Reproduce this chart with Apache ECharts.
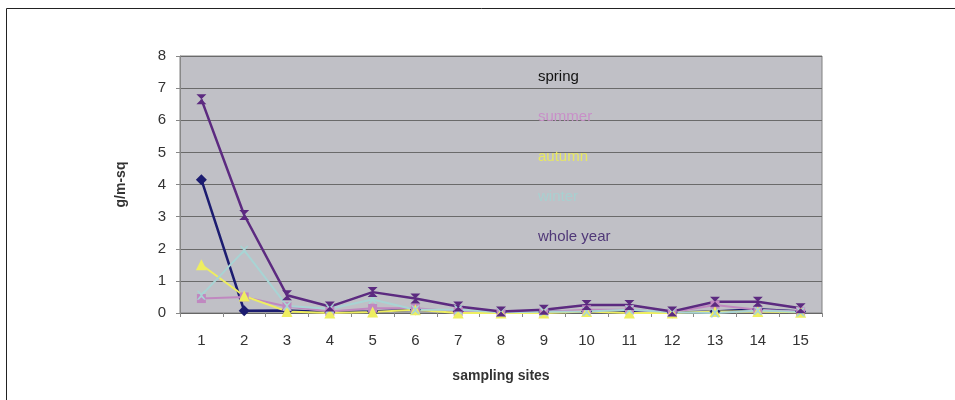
<!DOCTYPE html>
<html>
<head>
<meta charset="utf-8">
<script src="https://cdn.jsdelivr.net/npm/echarts@6/dist/echarts.min.js"></script>
<style>
html,body{margin:0;padding:0;background:#fff;}
#chart{width:955px;height:400px;}
</style>
</head>
<body>
<div id="chart"></div>
<script>
const sites = ['1','2','3','4','5','6','7','8','9','10','11','12','13','14','15'];
const spring    = [4.15, 0.07, 0.08, 0.02, 0.05, 0.10, 0.05, 0.02, 0.03, 0.05, 0.05, 0.01, 0.05, 0.12, 0.05];
const summer    = [0.45, 0.50, 0.20, 0.05, 0.15, 0.15, 0.05, 0.01, 0.03, 0.10, 0.10, 0.02, 0.25, 0.10, 0.05];
const autumn    = [1.50, 0.53, 0.05, 0.00, 0.03, 0.10, 0.00, 0.00, 0.00, 0.05, 0.00, 0.00, 0.05, 0.05, 0.02];
const winter    = [0.55, 1.95, 0.22, 0.13, 0.42, 0.10, 0.10, 0.02, 0.04, 0.05, 0.10, 0.02, 0.00, 0.08, 0.03];
const wholeYear = [6.65, 3.05, 0.55, 0.20, 0.65, 0.45, 0.20, 0.05, 0.10, 0.25, 0.25, 0.05, 0.35, 0.35, 0.15];
const seriesNames = ['spring','summer','autumn','winter','whole year'];

const chart = echarts.init(document.getElementById('chart'), null, {renderer:'canvas'});
const hourglass = 'path://M0,0 L10,0 L0,10 L10,10 Z';
function s(name, data, color, symbol, size, width){
  return {name, type:'line', data, symbol, symbolSize:size,
    lineStyle:{color, width:width || 2}, itemStyle:{color}, z: 3};
}
chart.setOption({
  animation:false,
  backgroundColor:'#ffffff',
  graphic:[{type:'rect', shape:{x:6.5,y:8.5,width:1000,height:500}, style:{fill:'none', stroke:'#222', lineWidth:1}, silent:true}],
  grid:{left:180, right:133, top:56, bottom:87, show:true, backgroundColor:'#c0c0c6', borderColor:'#808080', borderWidth:1},
  legend:{
    orient:'vertical', left:528, top:64, itemWidth:0, itemHeight:0, itemGap:25,
    icon:'rect',
    textStyle:{fontFamily:'Liberation Sans, Arial', fontSize:15},
    data:[
      {name:'spring', textStyle:{color:'#111111'}},
      {name:'summer', textStyle:{color:'#c890c8'}},
      {name:'autumn', textStyle:{color:'#e8e860'}},
      {name:'winter', textStyle:{color:'#a8d0d0'}},
      {name:'whole year', textStyle:{color:'#503878'}}
    ]
  },
  xAxis:{
    type:'category', data:sites, boundaryGap:true,
    name:'sampling sites', nameLocation:'middle', nameGap:56,
    nameTextStyle:{fontFamily:'Liberation Sans, Arial', fontWeight:'bold', fontSize:14, color:'#333'},
    axisLine:{lineStyle:{color:'#666', width:1}},
    axisTick:{show:true, length:4, lineStyle:{color:'#888'}},
    axisLabel:{fontFamily:'Liberation Sans, Arial', fontSize:15, color:'#333', margin:20}
  },
  yAxis:{
    type:'value', min:0, max:8, interval:1,
    name:'g/m-sq', nameLocation:'middle', nameGap:52, nameRotate:90,
    nameTextStyle:{fontFamily:'Liberation Sans, Arial', fontWeight:'bold', fontSize:14, color:'#333'},
    axisLine:{show:true, lineStyle:{color:'#888'}},
    axisTick:{show:true, length:4, lineStyle:{color:'#888'}},
    splitLine:{lineStyle:{color:'#6a6a6a', width:1}},
    axisLabel:{fontFamily:'Liberation Sans, Arial', fontSize:15, color:'#333', margin:14}
  },
  series:[
    s('spring', spring, '#1c1c70', 'diamond', 11, 2.5),
    s('summer', summer, '#c088c0', 'rect', 9, 2),
    s('autumn', autumn, '#eeee60', 'triangle', 11, 2),
    s('winter', winter, '#a8d4d4', 'path://M0,0 L2,0 L5,3 L8,0 L10,0 L6,5 L10,10 L8,10 L5,7 L2,10 L0,10 L4,5 Z', 9, 2),
    s('whole year', wholeYear, '#5c2a80', hourglass, 10, 2.5)
  ]
});
</script>
</body>
</html>
